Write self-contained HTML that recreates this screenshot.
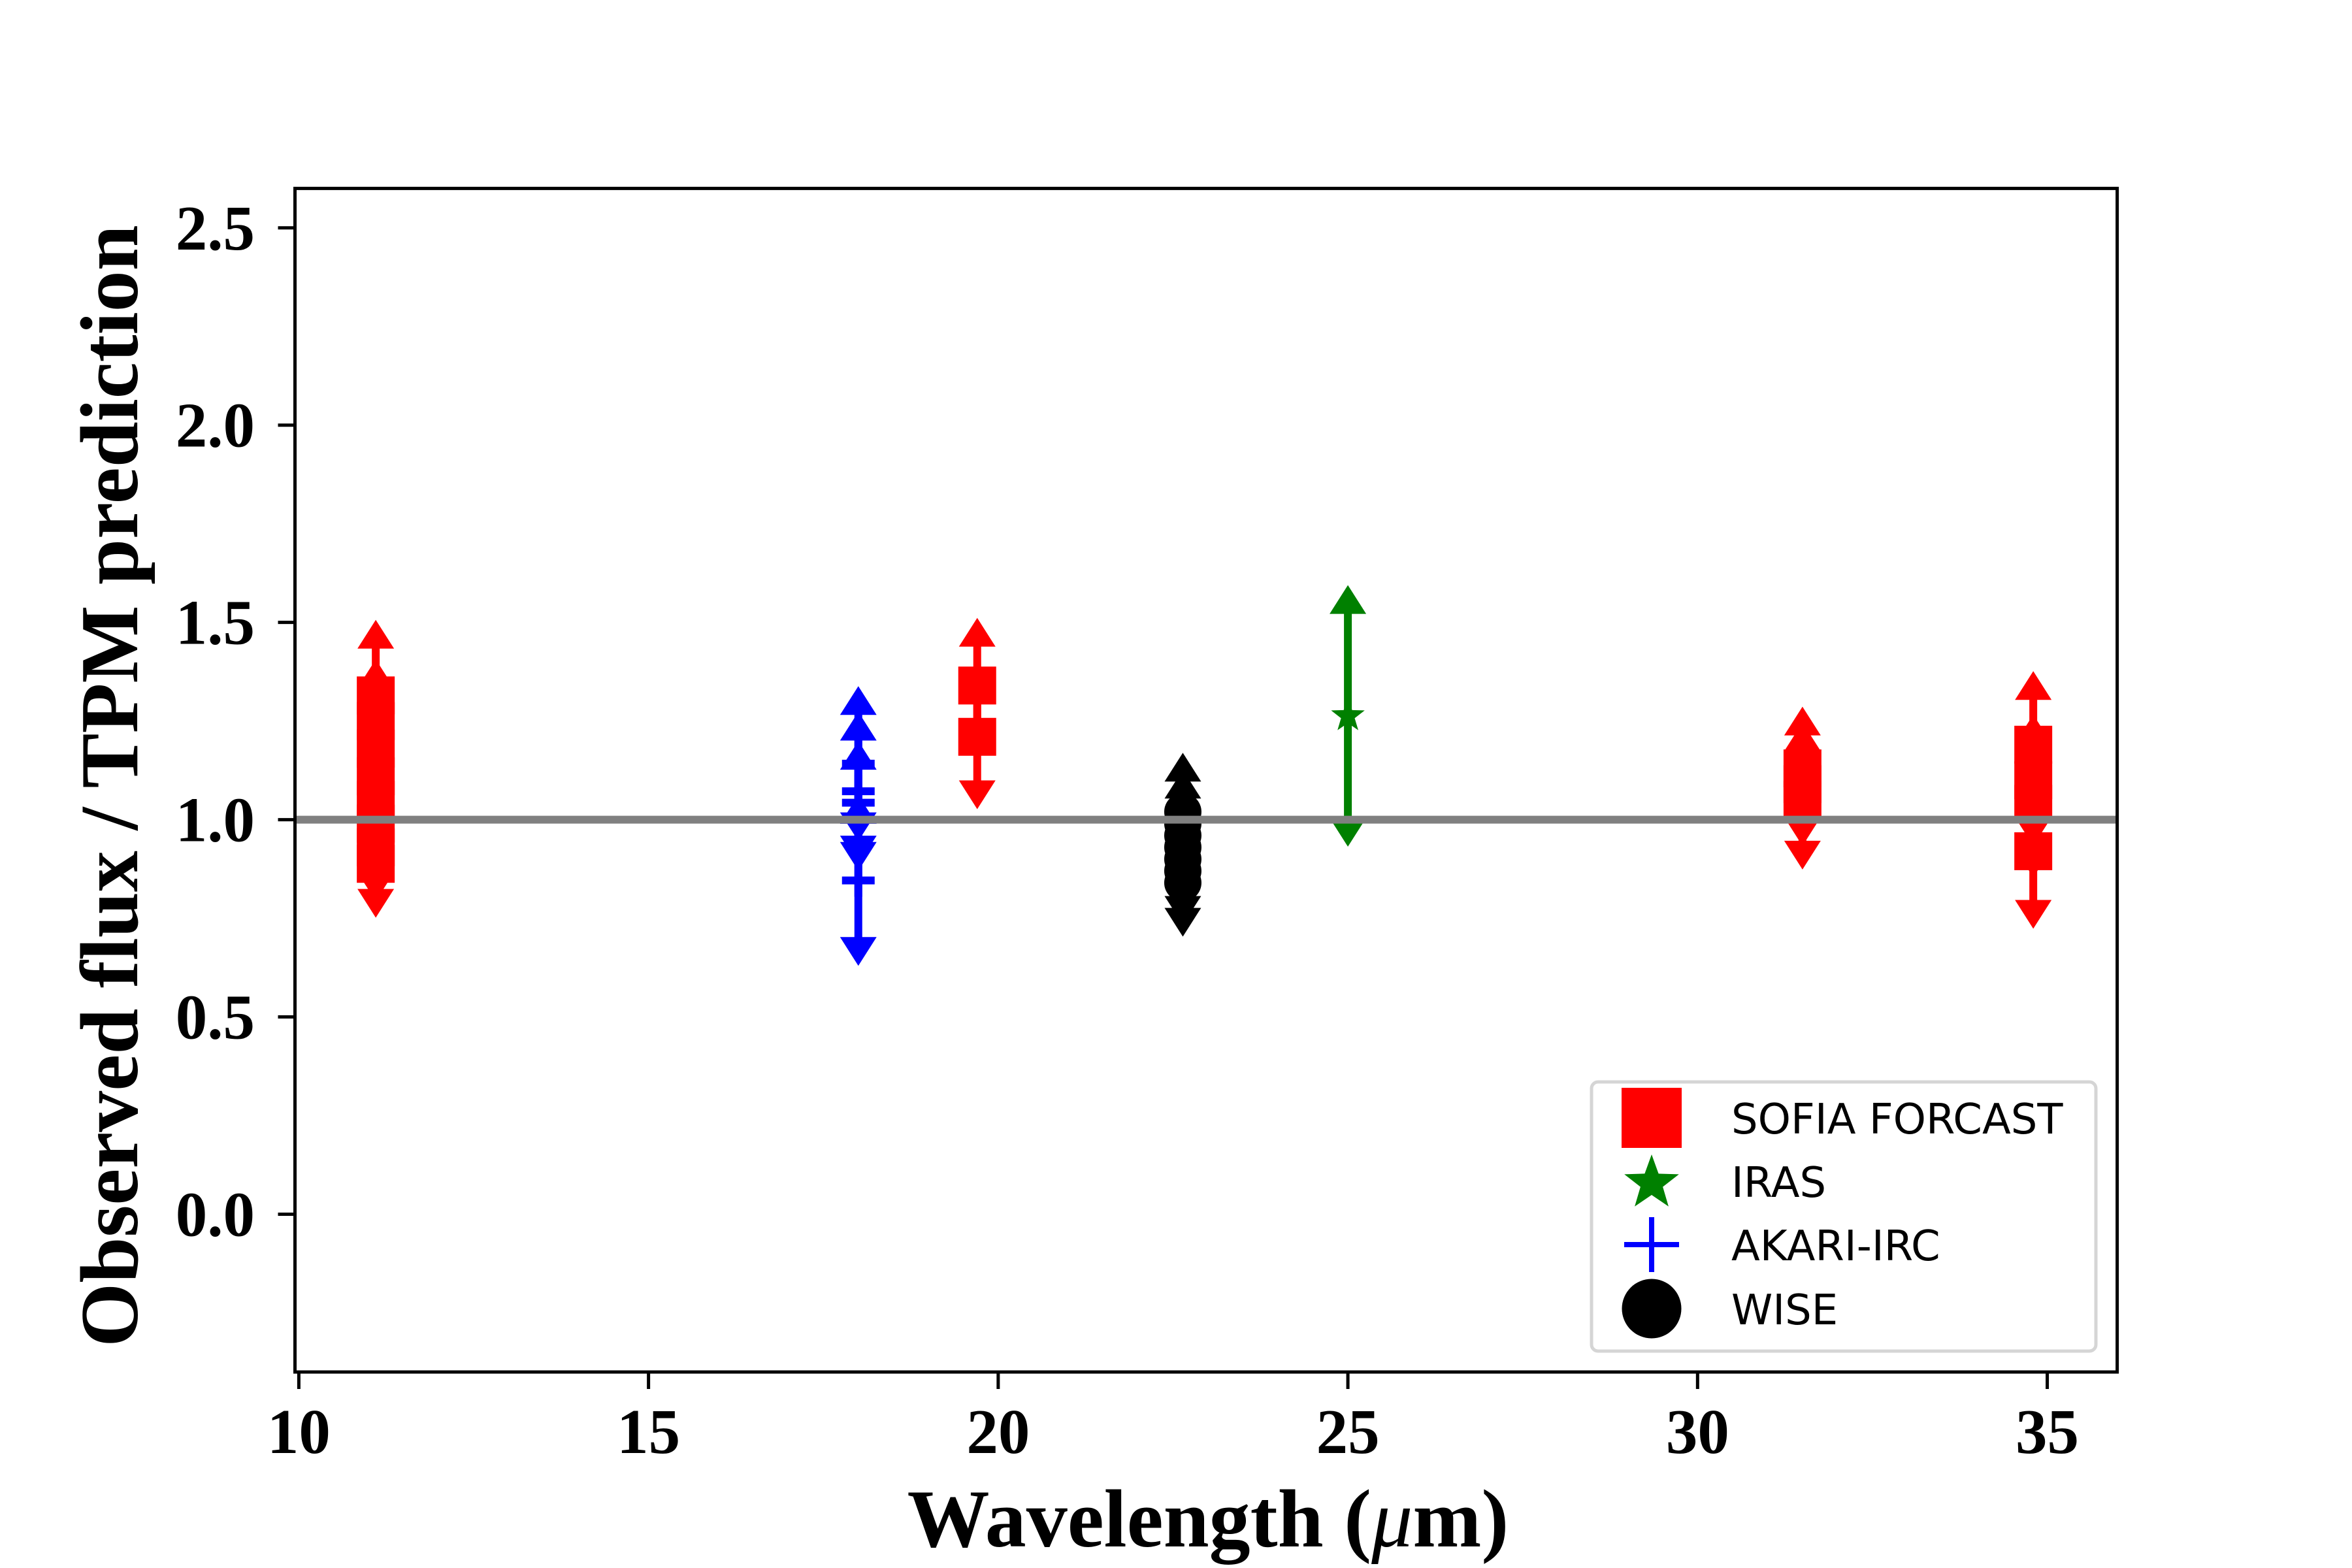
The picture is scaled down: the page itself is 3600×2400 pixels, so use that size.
<!DOCTYPE html>
<html><head><meta charset="utf-8"><style>
html,body{margin:0;padding:0;background:#fff;}
svg{display:block;}
.tk{font-family:"Liberation Serif",serif;font-weight:bold;font-size:97px;fill:#000;}
.ttl{font-family:"Liberation Serif",serif;font-weight:bold;font-size:126px;fill:#000;}
.lg{font-family:"DejaVu Sans","Liberation Sans",sans-serif;font-size:64px;fill:#000;}
</style></head><body>
<svg id="chart" width="3600" height="2400" viewBox="0 0 3600 2400" xmlns="http://www.w3.org/2000/svg">
<rect x="0" y="0" width="3600" height="2400" fill="#fff"/>
<g id="series"></g>
<g id="axes"></g>
</svg>
<script>
const xTicks = [10, 15, 20, 25, 30, 35];
const yTicks = [0.0, 0.5, 1.0, 1.5, 2.0, 2.5];
const yTickLabels = ["0.0", "0.5", "1.0", "1.5", "2.0", "2.5"];
const sofiaWave = [11.1,11.1,11.1,11.1,11.1,11.1,11.1,11.1,19.7,19.7,31.5,31.5,31.5,34.8,34.8,34.8,34.8];
const sofiaRatio = [1.315,1.25,1.18,1.11,1.05,0.99,0.93,0.888,1.34,1.21,1.13,1.09,1.05,1.19,1.10,1.04,0.92];
const sofiaErr = [0.155,0.12,0.1,0.1,0.1,0.1,0.1,0.1,0.135,0.147,0.12,0.12,0.14,0.15,0.13,0.15,0.16];
const irasWave = [25.0];
const irasRatio = [1.263];
const irasErr = [0.295];
const akariWave = [18.0,18.0,18.0,18.0];
const akariRatio = [1.142,1.072,1.043,0.846];
const akariErr = [0.16,0.165,0.12,0.18];
const wiseWave = [22.64,22.64,22.64,22.64,22.64,22.64,22.64];
const wiseRatio = [1.02,0.99,0.96,0.93,0.90,0.87,0.84];
const wiseErr = [0.113,0.10,0.10,0.10,0.10,0.10,0.10];

const L=451.5, R=3240.6, T=288.4, B=2100;
const xMin=9.945, xMax=36.0, yMin=-0.4, yMax=2.6;
function X(w){return L+(w-xMin)/(xMax-xMin)*(R-L);}
function Y(v){return B-(v-yMin)/(yMax-yMin)*(B-T);}
const NS="http://www.w3.org/2000/svg";
function mk(tag,attrs,parent){const e=document.createElementNS(NS,tag);for(const k in attrs)e.setAttribute(k,attrs[k]);parent.appendChild(e);return e;}
const sg=document.getElementById('series');
const ag=document.getElementById('axes');
const TW=28, TH=22;
function tri(cx,cy,up,color,g){
  const p = up ? `${cx-TW},${cy+TH} ${cx+TW},${cy+TH} ${cx},${cy-TH}` : `${cx-TW},${cy-TH} ${cx+TW},${cy-TH} ${cx},${cy+TH}`;
  return mk('polygon',{points:p,fill:color},g);
}
function starPts(cx,cy,ro,ri){let s=[];for(let i=0;i<10;i++){const r=i%2?ri:ro;const a=-Math.PI/2+i*Math.PI/5;s.push((cx+r*Math.cos(a)).toFixed(1)+','+(cy+r*Math.sin(a)).toFixed(1));}return s.join(' ');}
function drawSeries(name,waves,ratios,errs,color,marker){
  const g=mk('g',{},sg);
  
  
  for(let i=0;i<waves.length;i++){
    const cx=X(waves[i]), yt=Y(ratios[i]+errs[i]), yb=Y(ratios[i]-errs[i]);
    const ln=mk('line',{x1:cx,x2:cx,y1:yt,y2:yb,stroke:color,'stroke-width':12},g);
    
    
    const tu=tri(cx,yt,true,color,g);
    
    
    const td=tri(cx,yb,false,color,g);
    
    
  }
  for(let i=0;i<waves.length;i++){
    const cx=X(waves[i]), cy=Y(ratios[i]);
    let m;
    if(marker==='square') m=mk('rect',{x:cx-29,y:cy-29,width:58,height:58,fill:color},g);
    else if(marker==='circle') m=mk('circle',{cx:cx,cy:cy,r:28.5,fill:color},g);
    else if(marker==='star') m=mk('polygon',{points:starPts(cx,cy,27,11),fill:color},g);
    else { m=mk('path',{d:`M${cx-25},${cy}H${cx+25}M${cx},${cy-25}V${cy+25}`,stroke:color,'stroke-width':12,fill:'none'},g); }
    
    
  }
}
drawSeries('sofia-forcast',sofiaWave,sofiaRatio,sofiaErr,'#ff0000','square');
drawSeries('iras',irasWave,irasRatio,irasErr,'#008000','star');
drawSeries('akari-irc',akariWave,akariRatio,akariErr,'#0000ff','plus');
drawSeries('wise',wiseWave,wiseRatio,wiseErr,'#000000','circle');

const ref=mk('line',{x1:L,x2:R,y1:Y(1.0),y2:Y(1.0),stroke:'#808080','stroke-width':12},ag);



const fr=mk('rect',{x:L,y:T,width:R-L,height:B-T,fill:'none',stroke:'#000','stroke-width':5},ag);



xTicks.forEach(t=>{
  const tl=mk('line',{x1:X(t),x2:X(t),y1:B,y2:B+26,stroke:'#000','stroke-width':5},ag);
  
  
  const tx=mk('text',{x:X(t),y:2224,'text-anchor':'middle',class:'tk'},ag);
  tx.textContent=String(t);
  
  
});
yTicks.forEach((t,i)=>{
  const tl=mk('line',{x1:L-26,x2:L,y1:Y(t),y2:Y(t),stroke:'#000','stroke-width':5},ag);
  
  
  const tx=mk('text',{x:390,y:Y(t)+33,'text-anchor':'end',class:'tk'},ag);
  tx.textContent=yTickLabels[i];
  
  
});
const xt=mk('text',{x:1849,y:2367,'text-anchor':'middle',class:'ttl'},ag);
xt.innerHTML='Wavelength (<tspan font-style="italic" font-weight="normal">μ</tspan>m)';


const yt=mk('text',{x:0,y:0,'text-anchor':'middle',class:'ttl',transform:'translate(210,1203) rotate(-90)'},ag);
yt.textContent='Observed flux / TPM prediction';



const lg=mk('g',{},ag);


const lb=mk('rect',{x:2436,y:1656,width:772,height:412,rx:10,fill:'#fff','fill-opacity':0.85,stroke:'#d5d5d5','stroke-width':5},lg);


const rows=[['SOFIA FORCAST',1711],['IRAS',1808],['AKARI-IRC',1905],['WISE',2003]];
const lx=2528;
let m0=mk('rect',{x:lx-46,y:1711-46,width:92,height:92,fill:'#ff0000'},lg);


let m1=mk('polygon',{points:starPts(lx,1811,44,18),fill:'#008000'},lg);


let m2=mk('path',{d:`M${lx-42},1905H${lx+42}M${lx},1863V1947`,stroke:'#0000ff','stroke-width':8,fill:'none'},lg);


let m3=mk('circle',{cx:lx,cy:2003,r:45.5,fill:'#000'},lg);


rows.forEach(r=>{
  const t=mk('text',{x:2650,y:r[1]+24,class:'lg'},lg);
  t.textContent=r[0];
  
  
});
</script>
</body></html>
